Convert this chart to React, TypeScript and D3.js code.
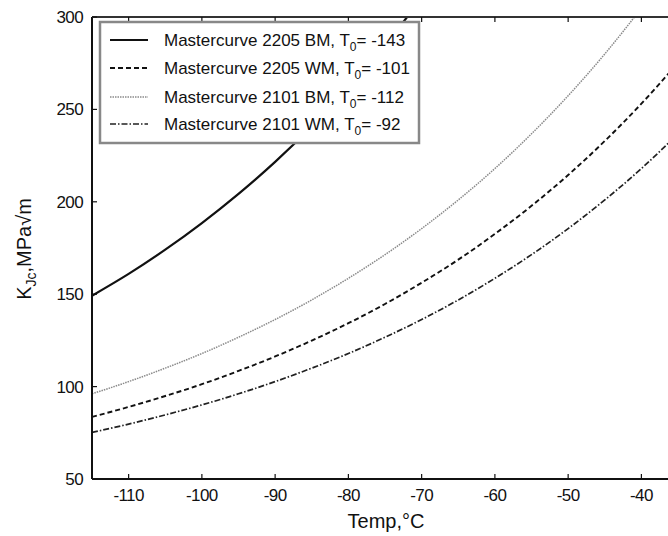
import * as d3 from 'd3';
import React from 'react';

const tempsBM2205 = [-115, -110, -105, -100, -95, -90, -85, -80, -75, -70];
const tempsAll = [-115, -110, -105, -100, -95, -90, -85, -80, -75, -70, -65, -60, -55, -50, -45, -40, -35];

// K_Jc values (MPa√m)
const kjcBM2205 = [149.2, 161.0, 174.1, 188.5, 204.3, 221.6, 240.7, 261.7, 284.8, 310.2];
const kjcWM2205 = [83.6, 89.0, 94.9, 101.3, 108.5, 116.3, 124.9, 134.3, 144.7, 156.2, 168.7, 182.6, 197.8, 214.5, 232.9, 253.1, 275.3];
const kjcBM2101 = [96.1, 102.7, 110.0, 117.9, 126.7, 136.3, 146.9, 158.6, 171.4, 185.5, 201.0, 218.0, 236.8, 257.4, 280.0, 304.9, 332.0];
const kjcWM2101 = [75.2, 79.7, 84.7, 90.1, 96.1, 102.7, 110.0, 117.9, 126.7, 136.3, 146.9, 158.6, 171.4, 185.5, 201.0, 218.0, 236.8];

const seriesNames = ['Mastercurve 2205 BM, T', 'Mastercurve 2205 WM, T', 'Mastercurve 2101 BM, T', 'Mastercurve 2101 WM, T'];
const seriesT0 = ['-143', '-101', '-112', '-92'];

const xTicks = [-110, -100, -90, -80, -70, -60, -50, -40];
const yTicks = [50, 100, 150, 200, 250, 300];

const styles = [
    { stroke: '#111', width: 2.2, dash: null },
    { stroke: '#111', width: 1.9, dash: '5,3' },
    { stroke: '#8a8a8a', width: 1.5, dash: '1.5,1' },
    { stroke: '#222', width: 1.7, dash: '6,2,1.5,2' },
];

export default function App() {
    const width = 668;
    const height = 536;
    const left = 92, top = 17, bottom = 479;

    const x = d3.scaleLinear().domain([-115, -40]).range([left, 641.4]);
    const y = d3.scaleLinear().domain([50, 300]).range([bottom, top]);

    const series = [
        { t: tempsBM2205, k: kjcBM2205 },
        { t: tempsAll, k: kjcWM2205 },
        { t: tempsAll, k: kjcBM2101 },
        { t: tempsAll, k: kjcWM2101 },
    ];

    const line = d3.line<[number, number]>()
        .x(d => x(d[0]))
        .y(d => y(d[1]))
        .curve(d3.curveMonotoneX);

    const font = "'Liberation Sans', Arial, sans-serif";
    const legendRows = [40, 68, 97, 124];

    return (
        <svg width={width} height={height}
             style={{ position: 'absolute', top: 0, left: 0, background: '#fff' }}
             fontFamily={font}>
            <defs>
                <clipPath id="plot">
                    <rect x={left} y={top} width={width - left} height={bottom - top} />
                </clipPath>
            </defs>

            <g clipPath="url(#plot)">
                {series.map((s, i) => (
                    <path key={i}
                          d={line(s.t.map((t, j) => [t, s.k[j]] as [number, number])) || ''}
                          fill="none"
                          stroke={styles[i].stroke}
                          strokeWidth={styles[i].width}
                          strokeDasharray={styles[i].dash || undefined} />
                ))}
            </g>

            {/* frame */}
            <line x1={left} x2={left} y1={top} y2={bottom} stroke="#111" strokeWidth={2} />
            <line x1={left} x2={width} y1={bottom} y2={bottom} stroke="#111" strokeWidth={2} />
            <line x1={left} x2={width} y1={top} y2={top} stroke="#333" strokeWidth={1.8} />

            {/* x ticks */}
            {xTicks.map(t => (
                <g key={t}>
                    <line x1={x(t)} x2={x(t)} y1={bottom} y2={bottom - 5} stroke="#111" strokeWidth={1.2} />
                    <line x1={x(t)} x2={x(t)} y1={top} y2={top + 5} stroke="#111" strokeWidth={1.2} />
                    <text x={x(t)} y={501} textAnchor="middle" fontSize={17} fill="#111"
                          letterSpacing={-0.6}>{t}</text>
                </g>
            ))}

            {/* y ticks */}
            {yTicks.map(v => (
                <g key={v}>
                    <line x1={left} x2={left + 5} y1={y(v)} y2={y(v)} stroke="#111" strokeWidth={1.2} />
                    <text x={83} y={y(v) + 6} textAnchor="end" fontSize={17} fill="#111"
                          letterSpacing={-0.6}>{v}</text>
                </g>
            ))}

            {/* axis titles */}
            <text x={386} y={528} textAnchor="middle" fontSize={20} fill="#111">Temp,°C</text>
            <text transform="translate(31,249) rotate(-90)" textAnchor="middle" fontSize={20} fill="#111">
                K<tspan fontSize={14} dy={5}>Jc</tspan><tspan dy={-5}>,MPa√m</tspan>
            </text>

            {/* legend */}
            <rect x={100} y={22} width={319} height={121} fill="#fff" stroke="#888" strokeWidth={2.5} />
            {legendRows.map((ry, i) => (
                <g key={i}>
                    <line x1={110} x2={148} y1={ry} y2={ry}
                          stroke={styles[i].stroke}
                          strokeWidth={styles[i].width}
                          strokeDasharray={styles[i].dash || undefined} />
                    <text x={164} y={ry + 6} fontSize={17} fill="#111">
                        {seriesNames[i]}<tspan fontSize={12} dy={5}>0</tspan><tspan dy={-5}>= {seriesT0[i]}</tspan>
                    </text>
                </g>
            ))}
        </svg>
    );
}
